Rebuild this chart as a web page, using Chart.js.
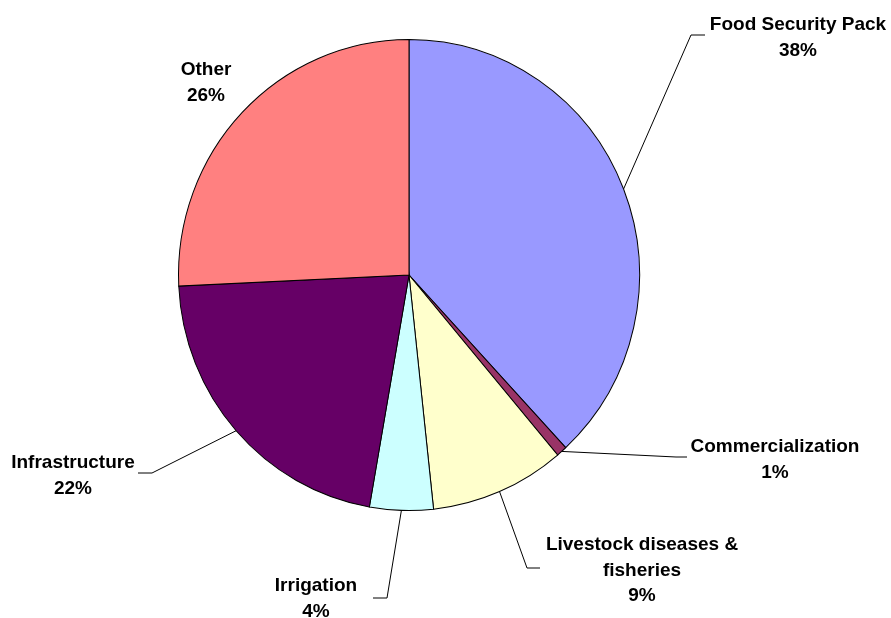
<!DOCTYPE html>
<html>
<head>
<meta charset="utf-8">
<script src="https://cdn.jsdelivr.net/npm/chart.js@4.4.1/dist/chart.umd.min.js"></script>
<style>
  html, body { margin: 0; padding: 0; background: #ffffff; }
  #wrap { position: relative; width: 891px; height: 618px; }
</style>
</head>
<body>
<div id="wrap"><canvas id="c"></canvas></div>
<script>
// ---- data ----
const categories = ["Food Security Pack", "Commercialization", "Livestock diseases & fisheries", "Irrigation", "Infrastructure", "Other"];
const shares = [38.1, 0.75, 9.45, 4.45, 21.5, 25.75];
const sliceColors = ["#9999FF", "#993366", "#FFFFCC", "#CCFFFF", "#660066", "#FF8080"];

// ---- label layout (text lines, centre x, first baseline y, leader path) ----
const labelLines = [
  ["Food Security Pack"],
  ["Commercialization"],
  ["Livestock diseases &", "fisheries"],
  ["Irrigation"],
  ["Infrastructure"],
  ["Other"]
];
const labelLayout = [
  { x: 798, y: 30, leader: [[691, 35], [705, 35]] },
  { x: 775, y: 452, leader: [[676, 457], [687, 457]] },
  { x: 642, y: 550, leader: [[527, 568], [540, 568]] },
  { x: 316, y: 591, leader: [[387, 598], [373, 598]] },
  { x: 73, y: 468, leader: [[152, 473], [138, 473]] },
  { x: 206, y: 75, leader: null }
];

const Y_SCALE = 1.0217;
const LINE_H = 25.5;

const ellipsePlugin = {
  id: 'ellipse',
  beforeDatasetsDraw(chart) {
    const arc = chart.getDatasetMeta(0).data[0];
    const ctx = chart.ctx;
    ctx.save();
    ctx.translate(arc.x, arc.y);
    ctx.scale(1, Y_SCALE);
    ctx.translate(-arc.x, -arc.y);
  },
  afterDatasetsDraw(chart) {
    chart.ctx.restore();
  }
};

const labelPlugin = {
  id: 'pieLabels',
  afterDraw(chart) {
    const ctx = chart.ctx;
    const meta = chart.getDatasetMeta(0);
    const total = shares.reduce((a, b) => a + b, 0);
    ctx.save();
    meta.data.forEach((arc, i) => {
      const lay = labelLayout[i];
      const mid = (arc.startAngle + arc.endAngle) / 2;
      const ax = arc.x + Math.cos(mid) * arc.outerRadius;
      const ay = arc.y + Math.sin(mid) * arc.outerRadius * Y_SCALE;
      if (lay.leader) {
        ctx.beginPath();
        ctx.strokeStyle = '#000000';
        ctx.lineWidth = 1;
        ctx.moveTo(ax, ay);
        lay.leader.forEach(p => ctx.lineTo(p[0], p[1]));
        ctx.stroke();
      }
      const lines = labelLines[i].concat([Math.round(shares[i] / total * 100) + '%']);
      ctx.fillStyle = '#000000';
      ctx.font = 'bold 19px "Liberation Sans", Arial, sans-serif';
      ctx.textAlign = 'center';
      ctx.textBaseline = 'alphabetic';
      lines.forEach((t, k) => ctx.fillText(t, lay.x, lay.y + k * LINE_H));
    });
    ctx.restore();
  }
};

new Chart(document.getElementById('c'), {
  type: 'pie',
  data: {
    labels: categories,
    datasets: [{
      data: shares,
      backgroundColor: sliceColors,
      borderColor: '#000000',
      borderWidth: 1,
      borderAlign: 'center'
    }]
  },
  options: {
    responsive: true,
    maintainAspectRatio: false,
    animation: false,
    layout: { padding: { left: 178, right: 251, top: 44, bottom: 112 } },
    plugins: {
      legend: { display: false },
      tooltip: { enabled: false }
    },
    elements: { arc: { borderJoinStyle: 'miter' } }
  },
  plugins: [ellipsePlugin, labelPlugin]
});
</script>
</body>
</html>
